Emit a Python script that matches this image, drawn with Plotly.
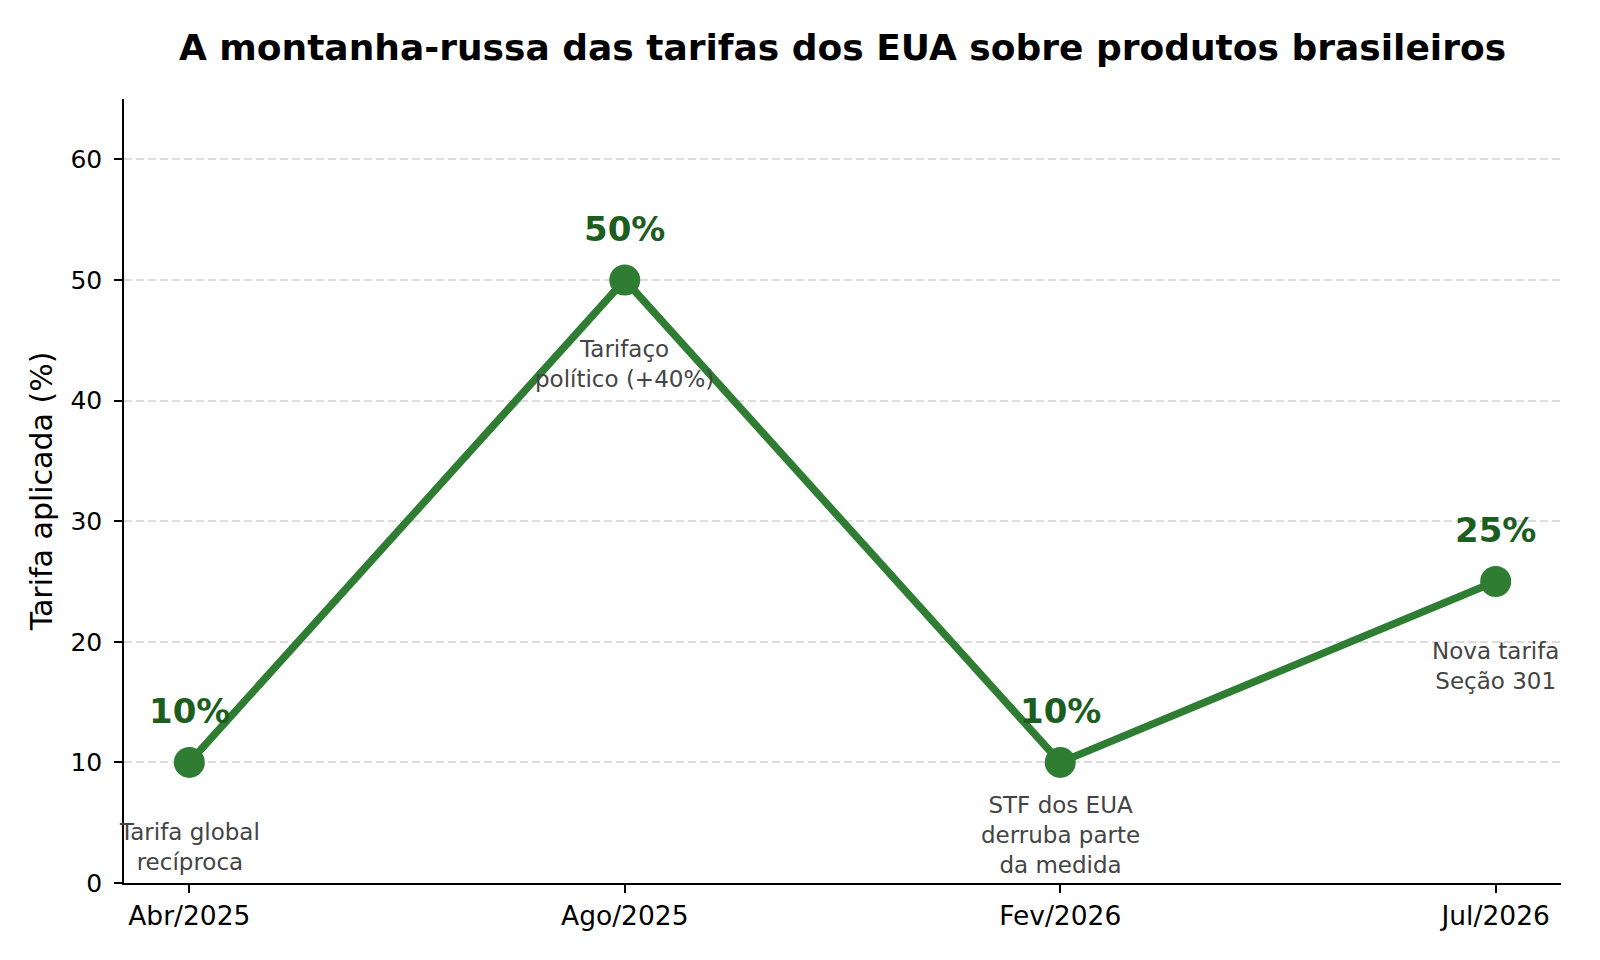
import plotly.graph_objects as go

# Data
periods = ["Abr/2025", "Ago/2025", "Fev/2026", "Jul/2026"]
tariff = [10, 50, 10, 25]
notes = [
    "Tarifa global<br>recíproca",
    "Tarifaço<br>político (+40%)",
    "STF dos EUA<br>derruba parte<br>da medida",
    "Nova tarifa<br>Seção 301",
]
note_y = [3, 43, 4, 18]

LINE = "#2e7d32"
LABEL = "#1b5e20"
FONT = "DejaVu Sans"

fig = go.Figure()
fig.add_trace(go.Scatter(
    x=periods, y=tariff, mode="lines+markers",
    line=dict(color=LINE, width=7.5),
    marker=dict(color=LINE, size=31),
    showlegend=False, hoverinfo="skip",
))

# value labels above each point
for p, v in zip(periods, tariff):
    fig.add_annotation(
        x=p, y=v, text=f"<b>{v}%</b>", showarrow=False,
        yshift=51, yanchor="middle",
        font=dict(family=FONT, size=34, color=LABEL),
    )

# event notes
for p, txt, ny in zip(periods, notes, note_y):
    fig.add_annotation(
        x=p, y=ny, text=txt, showarrow=False, yanchor="middle",
        font=dict(family=FONT, size=23, color="#444444"),
    )

fig.update_layout(
    width=1584, height=944,
    margin=dict(l=116, r=31, t=91, b=69),
    plot_bgcolor="white", paper_bgcolor="white",
    font=dict(family=FONT, size=24, color="black"),
    title=dict(
        text="<b>A montanha-russa das tarifas dos EUA sobre produtos brasileiros</b>",
        x=0.5, xanchor="center", xref="paper",
        y=1 - 39 / 944, yanchor="middle", yref="container",
        font=dict(family=FONT, size=36, color="black"),
    ),
)
fig.update_xaxes(
    type="category", range=[-0.15, 3.15],
    showgrid=False, showline=True, linecolor="black", linewidth=1.6,
    ticks="outside", ticklen=8, tickwidth=1.6, tickcolor="black",
    tickfont=dict(size=26.5), ticklabelstandoff=0,
)
fig.update_yaxes(
    range=[0, 65], tickvals=[0, 10, 20, 30, 40, 50, 60],
    showgrid=True, gridcolor="#dcdcdc", griddash="8px,4px", gridwidth=2,
    zeroline=False,
    showline=True, linecolor="black", linewidth=1.6,
    ticks="outside", ticklen=8, tickwidth=1.6, tickcolor="black",
    tickfont=dict(size=25), ticklabelstandoff=7,
    title=dict(text="Tarifa aplicada (%)", font=dict(size=30), standoff=9),
)

fig.write_html("out.html")
